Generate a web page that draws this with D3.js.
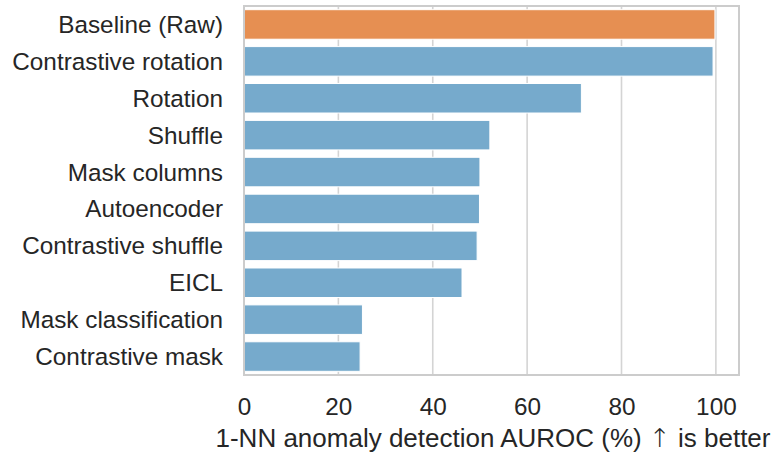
<!DOCTYPE html>
<html>
<head>
<meta charset="utf-8">
<script src="https://cdn.jsdelivr.net/npm/d3@7"></script>
<style>
    body { margin: 0; background: #fff; }
    svg text { font-family: "Liberation Sans", Arial, sans-serif; fill: #262626; }
</style>
</head>
<body>
<div id="chart"></div>
<script>
// Methods, top to bottom
const methods = [
    'Baseline (Raw)', 'Contrastive rotation', 'Rotation', 'Shuffle', 'Mask columns',
    'Autoencoder', 'Contrastive shuffle', 'EICL', 'Mask classification', 'Contrastive mask'
];
// AUROC (%)
const auroc = [99.8, 99.4, 71.5, 52.1, 50.0, 49.9, 49.4, 46.2, 25.1, 24.6];
const highlighted = ['Baseline (Raw)'];
const xTicks = [0, 20, 40, 60, 80, 100];
const xLabelParts = ['1-NN anomaly detection AUROC (%) ', '\u2191', ' is better'];

const width = 775, height = 454;
const margin = { top: 6, right: 36, bottom: 79, left: 244 };
const innerW = width - margin.left - margin.right;
const innerH = height - margin.top - margin.bottom;

const svg = d3.select('#chart').append('svg')
    .attr('width', width)
    .attr('height', height);

const g = svg.append('g')
    .attr('transform', `translate(${margin.left},${margin.top})`);

const x = d3.scaleLinear()
    .domain([0, 104.9])
    .range([0, innerW]);

const y = d3.scaleBand()
    .domain(methods)
    .range([0, innerH])
    .paddingInner(0.2)
    .paddingOuter(0.1);

// vertical grid
g.append('g').selectAll('line')
    .data(xTicks)
    .join('line')
    .attr('x1', d => x(d)).attr('x2', d => x(d))
    .attr('y1', 0).attr('y2', innerH)
    .attr('stroke', '#d4d4d4')
    .attr('stroke-width', 1.6);

const data = methods.map((m, i) => ({ method: m, value: auroc[i] }));

g.selectAll('rect.bar')
    .data(data)
    .join('rect')
    .attr('class', 'bar')
    .attr('x', x(0))
    .attr('y', d => y(d.method))
    .attr('width', d => x(d.value) - x(0))
    .attr('height', y.bandwidth())
    .attr('fill', d => highlighted.includes(d.method) ? '#e68f52' : '#76aacc')
    .attr('stroke', '#fff')
    .attr('stroke-width', 1);

// frame
g.append('rect')
    .attr('x', 0).attr('y', 0)
    .attr('width', innerW).attr('height', innerH)
    .attr('fill', 'none')
    .attr('stroke', '#cccccc')
    .attr('stroke-width', 2);

// axes
const xAxisG = g.append('g')
    .attr('transform', `translate(0,${innerH})`)
    .call(d3.axisBottom(x).tickValues(xTicks).tickSize(0).tickPadding(23));

const yAxisG = g.append('g')
    .call(d3.axisLeft(y).tickSize(0).tickPadding(21));

[xAxisG, yAxisG].forEach(a => {
    a.select('.domain').remove();
    a.selectAll('text').style('font-size', '24.3px').attr('fill', '#262626');
});
yAxisG.selectAll('text').attr('dy', '0.35em');

const title = svg.append('text')
    .attr('x', 493)
    .attr('y', 447)
    .attr('text-anchor', 'middle')
    .style('font-size', '26px');
title.selectAll('tspan')
    .data(xLabelParts)
    .join('tspan')
    .style('font-family', (d, i) => i === 1 ? '"DejaVu Sans", sans-serif' : null)
    .style('font-weight', (d, i) => i === 1 ? 300 : null)
    .attr('fill', '#262626')
    .text(d => d);
</script>
</body>
</html>
